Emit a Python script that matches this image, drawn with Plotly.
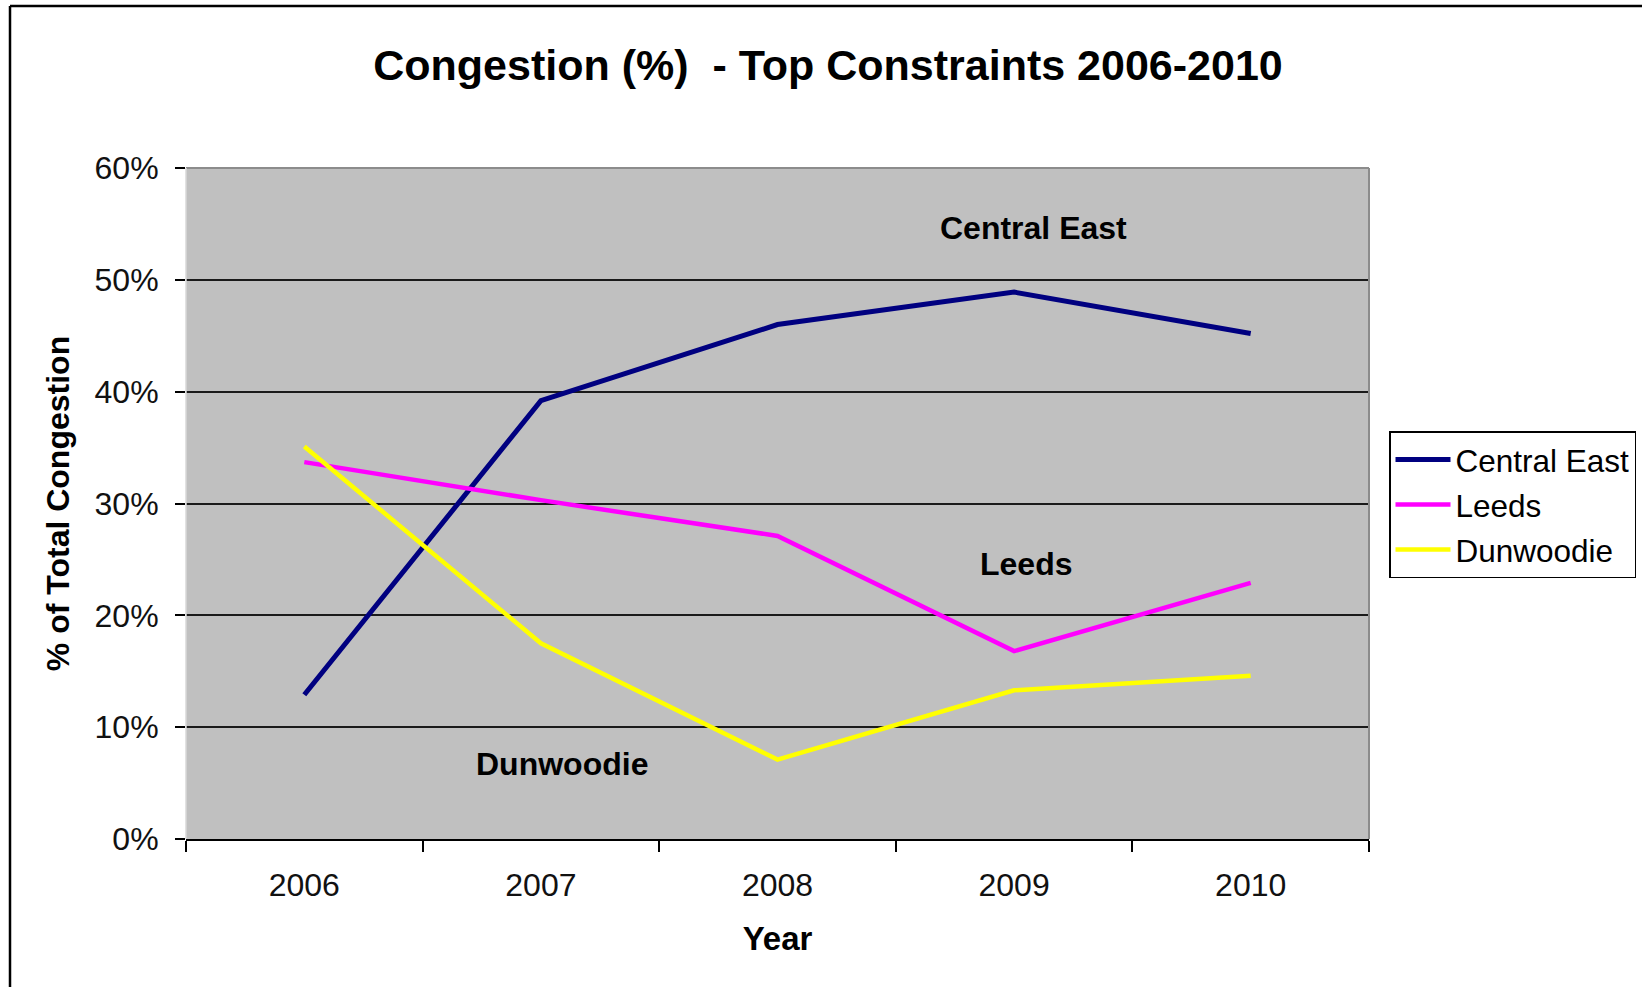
import plotly.graph_objects as go

years = ["2006", "2007", "2008", "2009", "2010"]
central_east = [0.129, 0.392, 0.460, 0.489, 0.452]
leeds = [0.337, 0.303, 0.271, 0.168, 0.229]
dunwoodie = [0.351, 0.175, 0.071, 0.133, 0.146]
series_names = ["Central East", "Leeds", "Dunwoodie"]
y_ticks = [0, 0.1, 0.2, 0.3, 0.4, 0.5, 0.6]
y_ticktext = ["0%", "10%", "20%", "30%", "40%", "50%", "60%"]

FONT = "Arial, Liberation Sans, sans-serif"
W, H = 1642, 987
L, R, T, B = 186, 1369, 168, 839

fig = go.Figure()
colors = ["#000080", "#FF00FF", "#FFFF00"]
widths = [5, 4.5, 4.5]
for name, vals, c, w in zip(series_names, [central_east, leeds, dunwoodie], colors, widths):
    fig.add_trace(go.Scatter(x=years, y=vals, mode="lines", name=name,
                             legendgroup=name,
                             line=dict(color=c, width=w)))

def px_x(p):
    return (p - L) / (R - L)

def px_y(p):
    return (B - p) / (B - T)

fig.update_layout(
    width=W, height=H,
    margin=dict(l=L, r=W - R, t=T, b=H - B, autoexpand=False),
    paper_bgcolor="white",
    plot_bgcolor="#C0C0C0",
    font=dict(family=FONT, color="black", size=32),
    title=dict(text="<b>Congestion (%)\u00a0\u00a0- Top Constraints 2006-2010</b>",
               x=828 / W, xanchor="center", y=1 - 65 / H, yanchor="middle",
               font=dict(family=FONT, size=43, color="black")),
    showlegend=True,
    legend=dict(x=px_x(1389), y=px_y(431), xanchor="left", yanchor="top",
                bgcolor="white", bordercolor="black", borderwidth=1.5,
                font=dict(family=FONT, size=31.5, color="black"),
                itemwidth=55, tracegroupgap=1),
    xaxis=dict(type="category", range=[-0.5, 4.5], showgrid=False,
               showline=True, linecolor="black", linewidth=2,
               ticks="outside", tickson="boundaries", ticklen=11,
               tickcolor="black", tickwidth=2,
               tickfont=dict(family=FONT, size=32, color="#111"),
               ticklabelstandoff=17,
               title=dict(text="<b>Year</b>", standoff=24,
                          font=dict(family=FONT, size=33, color="black"))),
    yaxis=dict(range=[0, 0.6], tickvals=y_ticks, ticktext=y_ticktext,
               showgrid=True, gridcolor="#1a1a1a", gridwidth=2,
               zeroline=False, showline=False,
               ticks="outside", ticklen=10, tickcolor="black", tickwidth=2,
               tickfont=dict(family=FONT, size=32, color="#111"),
               ticklabelstandoff=10,
               title=dict(text="<b>% of Total Congestion</b>", standoff=15,
                          font=dict(family=FONT, size=32, color="black"))),
)

# plot area frame (gray top/right/left)
fig.add_shape(type="line", xref="paper", yref="paper", x0=0, x1=1, y0=1, y1=1,
              line=dict(color="#8c8c8c", width=2), layer="above")
fig.add_shape(type="line", xref="paper", yref="paper", x0=1, x1=1, y0=0, y1=1,
              line=dict(color="#8c8c8c", width=2), layer="above")
fig.add_shape(type="line", xref="paper", yref="paper", x0=0, x1=0, y0=0, y1=1,
              line=dict(color="#d8d8d8", width=1.5), layer="above")

# outer chart border (left and top)
fig.add_shape(type="line", xref="paper", yref="paper",
              x0=px_x(10), x1=px_x(W + 5), y0=px_y(6), y1=px_y(6),
              line=dict(color="black", width=2.5))
fig.add_shape(type="line", xref="paper", yref="paper",
              x0=px_x(10), x1=px_x(10), y0=px_y(6), y1=px_y(H + 5),
              line=dict(color="black", width=2.5))

# in-chart labels
labels = [("Central East", 3.08, 0.546), ("Leeds", 3.05, 0.246), ("Dunwoodie", 1.09, 0.067)]
for txt, xi, yi in labels:
    fig.add_annotation(x=xi, y=yi, xref="x", yref="y", text=f"<b>{txt}</b>",
                       showarrow=False, font=dict(family=FONT, size=32, color="black"))

fig.write_html("out.html", config={"displayModeBar": False},
               post_script="document.body.style.margin='0';document.body.style.overflow='hidden';")
